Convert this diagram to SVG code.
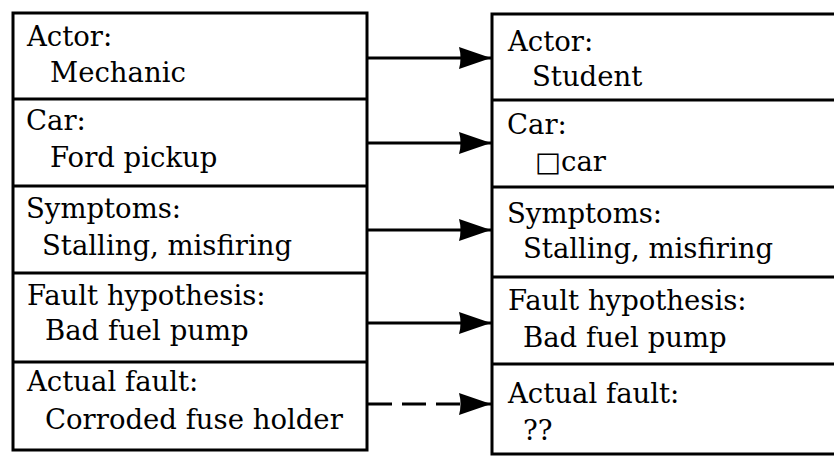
<svg xmlns="http://www.w3.org/2000/svg" width="834" height="457" viewBox="0 0 834 457">
  <style>
    .frame { fill: #fff; stroke: #000; stroke-width: 3; }
    .rule { stroke: #000; stroke-width: 3; }
    .t { font-family: "DejaVu Serif", "Liberation Serif", serif; font-size: 27.5px; fill: #000; }
    .link { stroke: #000; stroke-width: 3; fill: none; marker-end: url(#head); }
    .dash { stroke-dasharray: 24 10; }
  </style>
  <defs>
    <marker id="head" viewBox="0 0 32 24" refX="32" refY="12" markerWidth="32" markerHeight="24" markerUnits="userSpaceOnUse" orient="auto">
      <path d="M0,1 L32,12 L0,23 Q3,12 0,1 Z" fill="#000"/>
    </marker>
  </defs>

  <!-- source case frame -->
  <g id="source">
    <rect class="frame" x="13" y="13" width="354" height="437"/>
    <line class="rule" x1="13" y1="99" x2="367" y2="99"/>
    <line class="rule" x1="13" y1="186" x2="367" y2="186"/>
    <line class="rule" x1="13" y1="273" x2="367" y2="273"/>
    <line class="rule" x1="13" y1="362" x2="367" y2="362"/>
    <g id="src-actor">
      <text class="t" x="27" y="46">Actor:</text>
      <text class="t" x="50" y="82">Mechanic</text>
    </g>
    <g id="src-car">
      <text class="t" x="26" y="130">Car:</text>
      <text class="t" x="50" y="167">Ford pickup</text>
    </g>
    <g id="src-symptoms">
      <text class="t" x="26" y="218">Symptoms:</text>
      <text class="t" x="42" y="255">Stalling, misfiring</text>
    </g>
    <g id="src-hypothesis">
      <text class="t" x="27" y="305">Fault hypothesis:</text>
      <text class="t" x="45" y="340">Bad fuel pump</text>
    </g>
    <g id="src-fault">
      <text class="t" x="27" y="391">Actual fault:</text>
      <text class="t" x="45" y="429">Corroded fuse holder</text>
    </g>
  </g>

  <!-- target case frame -->
  <g id="target">
    <rect class="frame" x="492" y="14" width="350" height="440"/>
    <line class="rule" x1="492" y1="100" x2="834" y2="100"/>
    <line class="rule" x1="492" y1="187" x2="834" y2="187"/>
    <line class="rule" x1="492" y1="277" x2="834" y2="277"/>
    <line class="rule" x1="492" y1="364" x2="834" y2="364"/>
    <g id="tgt-actor">
      <text class="t" x="508" y="51">Actor:</text>
      <text class="t" x="532" y="86">Student</text>
    </g>
    <g id="tgt-car">
      <text class="t" x="507" y="134">Car:</text>
      <text class="t" x="535" y="171">□car</text>
    </g>
    <g id="tgt-symptoms">
      <text class="t" x="507" y="223">Symptoms:</text>
      <text class="t" x="523" y="258">Stalling, misfiring</text>
    </g>
    <g id="tgt-hypothesis">
      <text class="t" x="508" y="310">Fault hypothesis:</text>
      <text class="t" x="523" y="347">Bad fuel pump</text>
    </g>
    <g id="tgt-fault">
      <text class="t" x="508" y="403">Actual fault:</text>
      <text class="t" x="523" y="440">??</text>
    </g>
  </g>

  <!-- slot mappings -->
  <g id="connectors">
    <line class="link" x1="368" y1="58" x2="491" y2="58"/>
    <line class="link" x1="368" y1="143" x2="491" y2="143"/>
    <line class="link" x1="368" y1="230" x2="491" y2="230"/>
    <line class="link" x1="368" y1="323" x2="491" y2="323"/>
    <line class="link dash" x1="368" y1="404" x2="491" y2="404"/>
  </g>
</svg>
